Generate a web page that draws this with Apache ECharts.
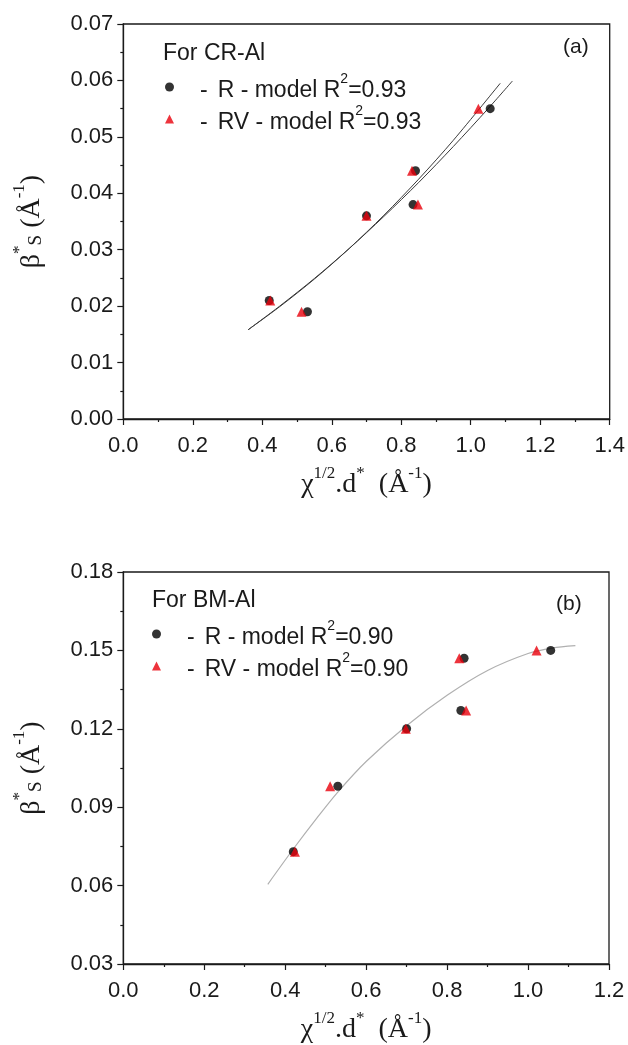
<!DOCTYPE html>
<html>
<head>
<meta charset="utf-8">
<script src="https://cdn.jsdelivr.net/npm/echarts@6/dist/echarts.min.js"></script>
<style>
  html, body { margin: 0; padding: 0; background: #ffffff; }
  #chart { width: 628px; height: 1045px; }
</style>
</head>
<body>
<div id="chart"></div>
<script>
// ---------- measured data ----------
// Panel (a): CR-Al
const crRX  = [0.420, 0.530, 0.700, 0.841, 0.834, 1.056];
const crRY  = [0.021, 0.019, 0.036, 0.044, 0.038, 0.055];
const crRVX = [0.423, 0.513, 0.700, 0.831, 0.848, 1.022];
const crRVY = [0.021, 0.019, 0.036, 0.044, 0.038, 0.055];
// fitted curves
const crFitRX  = [0.359, 0.45, 0.55, 0.65, 0.75, 0.85, 0.95, 1.05, 1.12];
const crFitRY  = [0.0158, 0.0200, 0.0249, 0.0302, 0.0359, 0.0419, 0.0483, 0.0550, 0.0599];
const crFitRVX = [0.359, 0.45, 0.55, 0.65, 0.75, 0.85, 0.95, 1.085];
const crFitRVY = [0.0158, 0.0199, 0.0248, 0.0302, 0.0361, 0.0425, 0.0494, 0.0595];

// Panel (b): BM-Al
const bmRX  = [0.420, 0.530, 0.700, 0.842, 0.834, 1.056];
const bmRY  = [0.073, 0.098, 0.120, 0.147, 0.127, 0.150];
const bmRVX = [0.424, 0.511, 0.698, 0.830, 0.847, 1.021];
const bmRVY = [0.073, 0.098, 0.120, 0.147, 0.127, 0.150];
const bmFitX = [0.357, 0.42, 0.48, 0.53, 0.60, 0.70, 0.80, 0.90, 1.00, 1.06, 1.117];
const bmFitY = [0.0605, 0.0740, 0.0862, 0.0958, 0.1075, 0.1212, 0.1328, 0.1423, 0.1488, 0.1509, 0.1518];

// legend texts
const crTitle = 'For CR-Al';
const bmTitle = 'For BM-Al';
const crR2 = '0.93';
const bmR2 = '0.90';

// axis ranges / tick steps
const crXRange = [0, 1.4, 0.2];
const crYRange = [0, 0.07, 0.01];
const bmXRange = [0, 1.2, 0.2];
const bmYRange = [0.03, 0.18, 0.03];

const zip = (xs, ys) => xs.map((x, i) => [x, ys[i]]);

// ---------- styling ----------
const SANS = 'Liberation Sans, Arial, sans-serif';
const SERIF = 'Liberation Serif, Times New Roman, serif';
const INK = '#1a1a1a';
const RED = '#e8000b';

const axisLine = { show: true, onZero: false, lineStyle: { color: INK, width: 1.3 } };

const xName = '{i|χ}{s|1/2}{i|.d}{s|*}{i|  (Å}{s|-1}{i|)}';
const yName = '{i|β}{s|*}{b|S}{i| (Å}{s|-1}{i|)}';
const nameRich = {
  i: { fontFamily: SERIF, fontSize: 28, color: INK, lineHeight: 34, verticalAlign: 'bottom' },
  s: { fontFamily: SERIF, fontSize: 17, color: INK, lineHeight: 16, verticalAlign: 'top' },
  b: { fontFamily: SERIF, fontSize: 19, color: INK, lineHeight: 22, verticalAlign: 'bottom' }
};

function makeX(gridIndex, r) {
  return {
    gridIndex, type: 'value', min: r[0], max: r[1], interval: r[2],
    axisLine,
    axisTick: { show: true, inside: false, length: 6, lineStyle: { color: INK, width: 1.2 } },
    minorTick: { show: true, splitNumber: 2, length: 3, lineStyle: { color: INK, width: 1.2 } },
    splitLine: { show: false },
    axisLabel: { margin: 16, fontFamily: SANS, fontSize: 22, color: INK,
                 formatter: v => v.toFixed(1) },
    name: xName, nameLocation: 'middle', nameGap: 46,
    nameTextStyle: { rich: nameRich }
  };
}
function makeY(gridIndex, r) {
  return {
    gridIndex, type: 'value', min: r[0], max: r[1], interval: r[2],
    axisLine,
    axisTick: { show: true, inside: false, length: 6, lineStyle: { color: INK, width: 1.2 } },
    minorTick: { show: true, splitNumber: 2, length: 3, lineStyle: { color: INK, width: 1.2 } },
    splitLine: { show: false },
    axisLabel: { margin: 10, fontFamily: SANS, fontSize: 22, color: INK,
                 formatter: v => v.toFixed(2) },
    name: yName, nameLocation: 'middle', nameGap: 78, nameRotate: 90,
    nameTextStyle: { rich: nameRich }
  };
}

const legendRich = {
  d: { fontFamily: SANS, fontSize: 23, color: INK, padding: [0, 10, 0, 21], lineHeight: 30, verticalAlign: 'bottom' },
  t: { fontFamily: SANS, fontSize: 23, color: INK, lineHeight: 30, verticalAlign: 'bottom' },
  s: { fontFamily: SANS, fontSize: 14, color: INK, lineHeight: 21, verticalAlign: 'top' }
};
const legendLabel = {
  'CR-Al R':  '{d|-}{t|R - model R}{s|2}{t|=' + crR2 + '}',
  'CR-Al RV': '{d|-}{t|RV - model R}{s|2}{t|=' + crR2 + '}',
  'BM-Al R':  '{d|-}{t|R - model R}{s|2}{t|=' + bmR2 + '}',
  'BM-Al RV': '{d|-}{t|RV - model R}{s|2}{t|=' + bmR2 + '}'
};
function makeLegend(names, left, top) {
  return {
    data: names, orient: 'vertical', left, top, padding: 0,
    itemWidth: 9, itemHeight: 9, itemGap: 2,
    selectedMode: false,
    formatter: n => legendLabel[n],
    textStyle: { rich: legendRich }
  };
}

function scatter(name, xi, yi, data, symbol, size, color, z) {
  return { name, type: 'scatter', xAxisIndex: xi, yAxisIndex: yi, data,
           symbol, symbolSize: size, itemStyle: { color }, z, silent: true };
}
function fitLine(xi, yi, data, color, width) {
  return { type: 'line', xAxisIndex: xi, yAxisIndex: yi, data, smooth: 0.3,
           showSymbol: false, symbol: 'none', lineStyle: { color, width }, z: 2, silent: true };
}

const option = {
  animation: false,
  backgroundColor: '#ffffff',
  grid: [
    { left: 123.3, top: 24, width: 488.4, height: 395, show: true, borderColor: INK, borderWidth: 1.3, backgroundColor: 'transparent' },
    { left: 123.3, top: 572, width: 485.7, height: 394, show: true, borderColor: INK, borderWidth: 1.3, backgroundColor: 'transparent' }
  ],
  xAxis: [makeX(0, crXRange), makeX(1, bmXRange)],
  yAxis: [makeY(0, crYRange), makeY(1, bmYRange)],
  legend: [
    makeLegend(['CR-Al R', 'CR-Al RV'], 165, 72),
    makeLegend(['BM-Al R', 'BM-Al RV'], 152, 619)
  ],
  graphic: [
    { type: 'text', left: 163, top: 42, style: { text: crTitle, font: '23px ' + SANS, fill: INK } },
    { type: 'text', left: 152, top: 589, style: { text: bmTitle, font: '23px ' + SANS, fill: INK } },
    { type: 'text', left: 563, top: 37, style: { text: '(a)', font: '21px ' + SANS, fill: INK } },
    { type: 'text', left: 556, top: 594, style: { text: '(b)', font: '21px ' + SANS, fill: INK } }
  ],
  series: [
    fitLine(0, 0, zip(crFitRX, crFitRY), '#3a3a3a', 1),
    fitLine(0, 0, zip(crFitRVX, crFitRVY), '#3a3a3a', 1),
    scatter('CR-Al R', 0, 0, zip(crRX, crRY), 'circle', 9, '#000000', 3),
    scatter('CR-Al RV', 0, 0, zip(crRVX, crRVY), 'triangle', 10, RED, 4),
    fitLine(1, 1, zip(bmFitX, bmFitY), '#b0b0b0', 1.2),
    scatter('BM-Al R', 1, 1, zip(bmRX, bmRY), 'circle', 9, '#000000', 3),
    scatter('BM-Al RV', 1, 1, zip(bmRVX, bmRVY), 'triangle', 10, RED, 4)
  ]
};

const chart = echarts.init(document.getElementById('chart'), null, { renderer: 'canvas' });
chart.setOption(option);
</script>
</body>
</html>
